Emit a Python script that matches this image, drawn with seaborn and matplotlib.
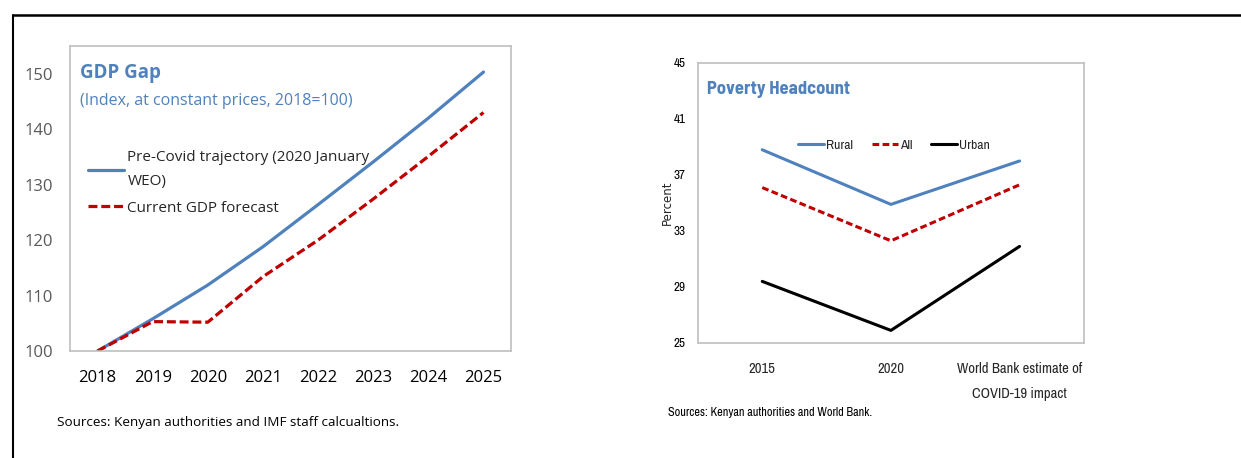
import pandas as pd
import seaborn as sns
import matplotlib.pyplot as plt
from matplotlib.lines import Line2D

# GDP gap data (index, 2018=100)
years = ['2018', '2019', '2020', '2021', '2022', '2023', '2024', '2025']
pre_covid = [100, 105.8, 111.9, 118.8, 126.4, 134.1, 142.0, 150.3]
current_fc = [100, 105.3, 105.2, 113.4, 120.0, 127.4, 135.1, 143.0]

# poverty headcount data (percent)
periods = ['2015', '2020', 'World Bank estimate of\nCOVID-19 impact']
rural = [38.8, 34.9, 38.0]
all_pov = [36.1, 32.3, 36.3]
urban = [29.4, 25.9, 31.9]

BLUE = '#4F81BD'
RED = '#C00000'
SPINE = '#BFBFBF'

sns.set_style('white')
plt.rcParams['font.family'] = ['Selawik', 'Open Sans', 'DejaVu Sans']
NARROW = ['Archivo Narrow', 'Liberation Sans', 'DejaVu Sans']
NARROW_BOLD = ['Barlow Semi Condensed', 'Archivo Narrow', 'Liberation Sans', 'DejaVu Sans']

fig = plt.figure(figsize=(12.41, 4.58), dpi=100)

# black frame lines (top and left)
fig.add_artist(Line2D([0.0105, 1.0], [0.9672, 0.9672], color='black', lw=1.8))
fig.add_artist(Line2D([0.0105, 0.0105], [0.0, 0.9672], color='black', lw=1.5))

# ---- left panel: GDP gap
ax1 = fig.add_axes([0.0564, 0.2336, 0.3554, 0.666])
gdp = pd.DataFrame({'year': years, 'pre': pre_covid, 'cur': current_fc})
sns.lineplot(data=gdp, x='year', y='pre', ax=ax1, color=BLUE, lw=2.3,
             label='Pre-Covid trajectory (2020 January\nWEO)')
sns.lineplot(data=gdp, x='year', y='cur', ax=ax1, color=RED, lw=2.3,
             linestyle=(0, (2.8, 1.2)), label='Current GDP forecast')
ax1.set_xlim(-0.5, len(years) - 0.5)
ax1.set_ylim(100, 155)
ax1.set_yticks(range(100, 151, 10))
ax1.set_xticks(range(len(years)))
ax1.set_xticklabels(years)
ax1.set_xlabel('')
ax1.set_ylabel('')
ax1.tick_params(axis='y', direction='out', length=3.6, color=SPINE, labelsize=12,
                labelcolor='#595959', pad=8.5)
ax1.tick_params(axis='x', length=0, labelsize=12, labelcolor='black', pad=14)
# inward minor ticks between categories
ax1.set_xticks([i + 0.5 for i in range(len(years) - 1)], minor=True)
ax1.tick_params(axis='x', which='minor', direction='in', length=6, color=SPINE)
for s in ax1.spines.values():
    s.set_color(SPINE)
    s.set_linewidth(1.2)
ax1.text(0.022, 0.91, 'GDP Gap', transform=ax1.transAxes, fontsize=13.5,
         fontweight='bold', color=BLUE, va='center')
ax1.text(0.022, 0.82, '(Index, at constant prices, 2018=100)', transform=ax1.transAxes,
         fontsize=11.5, color=BLUE, va='center')
leg1 = ax1.legend(loc='upper left', bbox_to_anchor=(0.028, 0.68), frameon=False,
                  fontsize=11, handlelength=2.35, handletextpad=0.2, labelspacing=0.75,
                  borderaxespad=0)
for t in leg1.get_texts():
    t.set_linespacing(1.85)
fig.text(0.046, 0.078, 'Sources: Kenyan authorities and IMF staff calcualtions.',
         fontsize=9.7, color='black', va='center')

# ---- right panel: poverty headcount
ax2 = fig.add_axes([0.5624, 0.2511, 0.311, 0.6114])
pov = pd.DataFrame({'period': periods, 'rural': rural, 'all': all_pov, 'urban': urban})
sns.lineplot(data=pov, x='period', y='rural', ax=ax2, color=BLUE, lw=2.2, label='Rural')
sns.lineplot(data=pov, x='period', y='all', ax=ax2, color=RED, lw=2.2,
             linestyle=(0, (2.2, 1.1)), label='All')
sns.lineplot(data=pov, x='period', y='urban', ax=ax2, color='black', lw=2.2, label='Urban')
ax2.set_xlim(-0.5, len(periods) - 0.5)
ax2.set_ylim(25, 45)
ax2.set_yticks(range(25, 46, 4))
ax2.set_xticks(range(len(periods)))
ax2.set_xticklabels(periods, family=NARROW, fontsize=10.5, linespacing=1.95)
ax2.set_xlabel('')
ax2.set_ylabel('Percent', family='DejaVu Sans', fontsize=8.5, labelpad=0)
ax2.tick_params(axis='y', direction='out', length=4, color=SPINE, labelsize=9.5,
                labelcolor='black', pad=5)
for lab in ax2.get_yticklabels():
    lab.set_family(NARROW)
ax2.tick_params(axis='x', length=0, pad=14)
ax2.set_xticks([i + 0.5 for i in range(len(periods) - 1)], minor=True)
ax2.tick_params(axis='x', which='minor', direction='in', length=6, color=SPINE)
for s in ax2.spines.values():
    s.set_color(SPINE)
    s.set_linewidth(1.2)
ax2.text(0.024, 0.905, 'Poverty Headcount', transform=ax2.transAxes, fontsize=13.4,
         fontweight='bold', color=BLUE, va='center', family=NARROW_BOLD)
ax2.legend(loc='center', bbox_to_anchor=(0.508, 0.707), ncol=3, frameon=False,
           prop={'family': NARROW, 'size': 9.8}, handlelength=1.9, handletextpad=0.15,
           columnspacing=1.4, borderaxespad=0)
fig.text(0.538, 0.1, 'Sources: Kenyan authorities and World Bank.',
         fontsize=8.8, color='black', va='center', family=NARROW)

fig.savefig('out.png', dpi=100)
